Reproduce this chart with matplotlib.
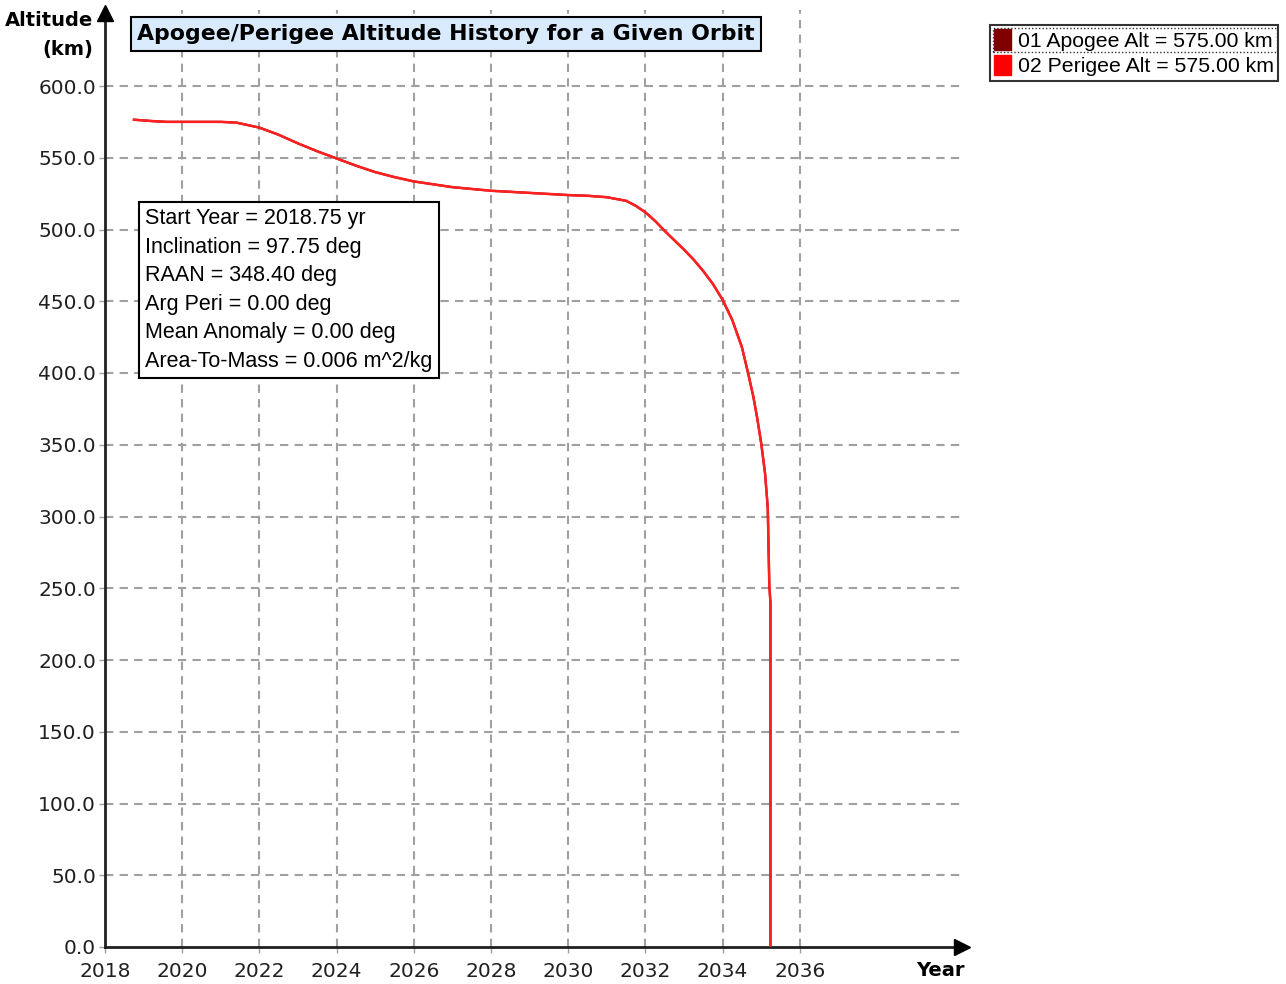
import matplotlib
matplotlib.use("Agg")
import matplotlib.pyplot as plt
from matplotlib.patches import Patch, Rectangle

plt.rcParams['font.family'] = ['DejaVu Sans']

# decay history (circular orbit: apogee == perigee)
years = [2018.75, 2019.25, 2019.6, 2020.0, 2021.0, 2021.4, 2022.0, 2022.5, 2023.0,
         2023.5, 2024.0, 2024.5, 2025.0, 2025.5, 2026.0, 2027.0, 2028.0, 2029.0,
         2030.0, 2030.5, 2031.0, 2031.5, 2031.75, 2032.0, 2032.25, 2032.5,
         2032.75, 2033.0, 2033.25, 2033.5, 2033.75, 2034.0, 2034.25, 2034.5,
         2034.66, 2034.8, 2034.9, 2035.0, 2035.1, 2035.17, 2035.21, 2035.24,
         2035.24]
perigee_alt = [576.5, 575.5, 575.0, 575.0, 575.0, 574.5, 571.0, 566.0, 560.0,
               554.5, 549.5, 544.5, 540.0, 536.5, 533.5, 529.5, 527.0, 525.5,
               524.0, 523.5, 522.5, 520.0, 516.5, 512.0, 506.0, 499.0,
               492.5, 486.0, 479.0, 471.0, 462.0, 451.0, 437.0, 418.0,
               400.0, 383.0, 368.0, 351.0, 330.0, 306.0, 252.0, 240.0,
               0.0]
apogee_alt = list(perigee_alt)

x_ticks = [2018, 2020, 2022, 2024, 2026, 2028, 2030, 2032, 2034, 2036]
y_ticks = [0, 50, 100, 150, 200, 250, 300, 350, 400, 450, 500, 550, 600]

legend_labels = ["01 Apogee Alt = 575.00 km", "02 Perigee Alt = 575.00 km"]
legend_colors = ["#800000", "#ff0000"]

info_lines = ["Start Year = 2018.75 yr",
              "Inclination = 97.75 deg",
              "RAAN = 348.40 deg",
              "Arg Peri = 0.00 deg",
              "Mean Anomaly = 0.00 deg",
              "Area-To-Mass = 0.006 m^2/kg"]

W, H = 1286, 984
fig = plt.figure(figsize=(W / 100, H / 100), dpi=100)


def fx(px):
    return px / W


def fy(py):
    return 1 - py / H


ax = fig.add_axes([fx(105), fy(947), fx(965) - fx(105), fy(10) - fy(947)])
ax.set_xlim(2018, 2018 + (965 - 105) / 38.6)
ax.set_ylim(0, (947 - 10) / 861 * 600)

ax.plot(years, apogee_alt, color="#800000", lw=1.6, zorder=3)
ax.plot(years, perigee_alt, color="#ff2020", lw=1.8, zorder=4)

# grid: vertical lines only for labelled years, horizontal only up to 600
for x in x_ticks[1:]:
    ax.plot([x, x], [0, ax.get_ylim()[1]], color="#a0a0a0", lw=1.5,
            dashes=(4, 3), zorder=1)
for y in y_ticks[1:]:
    ax.plot([2018, ax.get_xlim()[1]], [y, y], color="#a0a0a0", lw=1.5,
            dashes=(4, 3), zorder=1)

ax.set_xticks(x_ticks)
ax.set_xticklabels([str(v) for v in x_ticks])
ax.set_yticks(y_ticks)
ax.set_yticklabels([f"{v:.1f}" for v in y_ticks])
ax.tick_params(axis="both", length=4.5, width=1, color="#a0a0a0",
               labelsize=14.5, labelcolor="#202020")
ax.tick_params(axis="x", pad=6.5)
ax.tick_params(axis="y", pad=2)

for s in ["top", "right"]:
    ax.spines[s].set_visible(False)
for s in ["left", "bottom"]:
    ax.spines[s].set_linewidth(2)
    ax.spines[s].set_color("#202020")

# axis arrows
ax.plot(0.996, 0, marker=">", ms=11, color="black", transform=ax.transAxes,
        clip_on=False, zorder=6)
ax.plot(0, 0.997, marker="^", ms=11, color="black", transform=ax.transAxes,
        clip_on=False, zorder=6)

fig.text(fx(93), fy(20), "Altitude", ha="right", va="center",
         fontsize=14, fontweight="bold")
fig.text(fx(93), fy(50), "(km)", ha="right", va="center",
         fontsize=14, fontweight="bold")
fig.text(fx(965), fy(971), "Year", ha="right", va="center",
         fontsize=14, fontweight="bold")

# title box
fig.text(fx(446), fy(34), "Apogee/Perigee Altitude History for a Given Orbit",
         ha="center", va="center", fontsize=15.8, fontweight="bold",
         bbox=dict(boxstyle="square,pad=0.3", facecolor="#d8eafc",
                   edgecolor="black", lw=1.5))

# orbit info box
fig.text(fx(145), fy(208), "\n".join(info_lines), ha="left", va="top",
         fontsize=15.5, linespacing=1.47, family=["Liberation Sans"],
         bbox=dict(boxstyle="square,pad=0.3", facecolor="white",
                   edgecolor="black", lw=1.5), zorder=5)

handles = [Patch(facecolor=c, edgecolor=c) for c in legend_colors]
leg = fig.legend(handles, legend_labels, loc="upper left",
                 bbox_to_anchor=(fx(990), fy(25)), frameon=True,
                 prop={"family": "Liberation Sans", "size": 15.3},
                 fancybox=False, edgecolor="black", handlelength=0.8,
                 handleheight=1.1, handletextpad=0.3, borderpad=0.2,
                 labelspacing=0.2, borderaxespad=0)
leg.get_frame().set_linewidth(1.5)

# dotted focus frame around first legend row
fig.patches.append(Rectangle((fx(993), fy(52)), fx(1277) - fx(993),
                             fy(28) - fy(52), transform=fig.transFigure,
                             fill=False, edgecolor="#333333", lw=1,
                             linestyle=(0, (1, 1.5)), zorder=10))

fig.savefig("out.png", dpi=100)
